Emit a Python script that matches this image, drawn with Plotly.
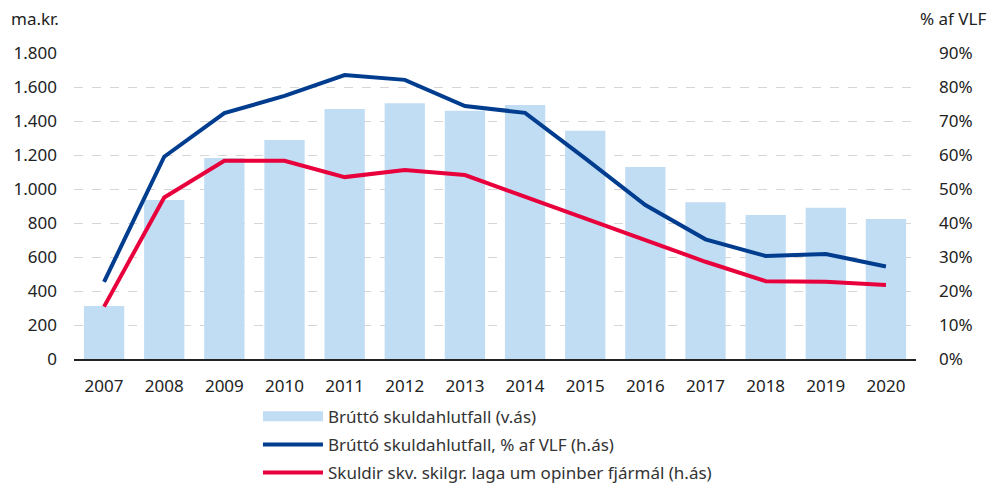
import plotly.graph_objects as go

years = ["2007", "2008", "2009", "2010", "2011", "2012", "2013", "2014", "2015", "2016", "2017", "2018", "2019", "2020"]
gross_debt = [312, 935, 1182, 1288, 1470, 1504, 1461, 1494, 1342, 1129, 922, 847, 890, 824]
gross_pct = [22.7, 59.5, 72.3, 77.4, 83.5, 82.1, 74.4, 72.4, 59.0, 45.3, 35.2, 30.3, 30.9, 27.2]
law_pct = [15.4, 47.5, 58.3, 58.3, 53.5, 55.6, 54.1, 47.7, 41.3, 35.0, 28.6, 22.9, 22.7, 21.8]

left_ticks = [0, 200, 400, 600, 800, 1000, 1200, 1400, 1600, 1800]
left_labels = ["0", "200", "400", "600", "800", "1.000", "1.200", "1.400", "1.600", "1.800"]
right_ticks = [0, 10, 20, 30, 40, 50, 60, 70, 80, 90]
right_labels = ["0%", "10%", "20%", "30%", "40%", "50%", "60%", "70%", "80%", "90%"]

names = ["Brúttó skuldahlutfall (v.ás)", "Brúttó skuldahlutfall, % af VLF (h.ás)",
         "Skuldir skv. skilgr. laga um opinber fjármál (h.ás)"]

BAR = "#c1ddf4"
BLUE = "#003d8f"
RED = "#e8003d"
FONT = "Noto Sans"

fig = go.Figure()
fig.add_trace(go.Bar(x=years, y=gross_debt, marker_color=BAR, marker_line_width=0,
                     width=0.67, showlegend=False, yaxis="y"))
fig.add_trace(go.Scatter(x=[None], y=[None], mode="lines", line=dict(color=BAR, width=11),
                         name=names[0], legendgroup="a", yaxis="y"))
fig.add_trace(go.Scatter(x=years, y=gross_pct, mode="lines", line=dict(color=BLUE, width=4),
                         name=names[1], legendgroup="b", yaxis="y2"))
fig.add_trace(go.Scatter(x=years, y=law_pct, mode="lines", line=dict(color=RED, width=4),
                         name=names[2], legendgroup="c", yaxis="y2"))

fig.update_layout(
    width=992, height=479,
    margin=dict(l=66, r=84, t=45, b=128, autoexpand=False),
    paper_bgcolor="white", plot_bgcolor="white",
    font=dict(family=FONT, size=17, color="#222222"),
    xaxis=dict(type="category", showgrid=False, showline=True, linecolor="#222222", linewidth=2,
               ticks="", tickfont=dict(size=17), ticklabelstandoff=11),
    yaxis=dict(range=[0, 1800], tickvals=left_ticks, ticktext=left_labels, showgrid=True,
               gridcolor="#d6d6d6", griddash="dash", gridwidth=1, zeroline=False,
               showline=False, ticks="", ticklabelstandoff=16),
    yaxis2=dict(range=[0, 90], tickvals=right_ticks, ticktext=right_labels, overlaying="y",
                side="right", showgrid=False, zeroline=False, showline=False, ticks="",
                ticklabelstandoff=22),
    legend=dict(orientation="v", x=0.2185, y=-0.13, xanchor="left", yanchor="top",
                font=dict(size=17, color="#333333"), tracegroupgap=3, itemwidth=60,
                bgcolor="rgba(0,0,0,0)"),
    annotations=[
        dict(text="ma.kr.", xref="paper", yref="paper", x=-0.077, y=1.0, yshift=35,
             xanchor="left", yanchor="middle", showarrow=False, font=dict(size=17)),
        dict(text="% af VLF", xref="paper", yref="paper", x=1.0, xshift=72, y=1.0, yshift=35,
             xanchor="right", yanchor="middle", showarrow=False, font=dict(size=17)),
    ],
)

fig.write_html("out.html")
